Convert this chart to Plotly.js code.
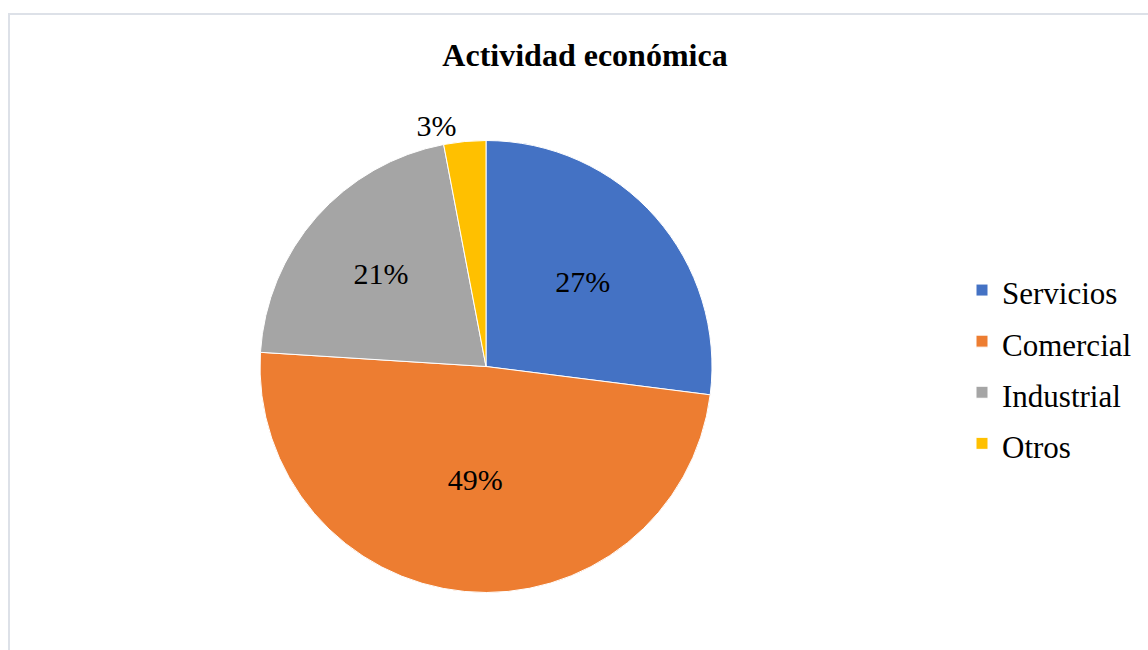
<!DOCTYPE html>
<html>
<head>
<meta charset="utf-8">
<script src="https://cdn.plot.ly/plotly-3.0.1.min.js"></script>
<style>
html,body{margin:0;padding:0;background:#fff;}
#chart{width:1148px;height:650px;}
</style>
</head>
<body>
<div id="chart"></div>
<script>
const categories = ["Servicios", "Comercial", "Industrial", "Otros"];
const values = [27, 49, 21, 3];
const colors = ["#4472C4", "#ED7D31", "#A5A5A5", "#FFC000"];
const chartTitle = "Actividad económica";

const W = 1148, H = 650;
const serif = "Liberation Serif";

// legend row spacing comes from the legend font size; the visible label uses 31px
const legendLabels = categories.map(c => '<span style="font-size:31px">' + c + '</span>');

const trace = {
  type: "pie",
  labels: legendLabels,
  values: values,
  sort: false,
  direction: "clockwise",
  rotation: 0,
  marker: {colors: colors, line: {color: "#ffffff", width: 1}},
  textinfo: "percent",
  texttemplate: "%{percent:.0%}",
  textposition: ["inside", "inside", "inside", "outside"],
  insidetextorientation: "horizontal",
  textfont: {family: serif, size: 30, color: "#000000"},
  outsidetextfont: {family: serif, size: 30, color: "#000000"},
  insidetextfont: {family: serif, size: 30, color: "#000000"},
  hoverinfo: "label+percent",
  domain: {x: [260 / W, 712 / W], y: [57 / H, 510 / H]}
};

const layout = {
  width: W, height: H,
  margin: {l: 0, r: 0, t: 0, b: 0},
  paper_bgcolor: "#ffffff",
  font: {family: serif, size: 30, color: "#000000"},
  title: {
    text: "<b>" + chartTitle + "</b>",
    font: {family: serif, size: 32, color: "#000000"},
    x: 585 / W, xanchor: "center",
    y: 1 - 55 / H, yanchor: "middle"
  },
  showlegend: true,
  legend: {
    x: 962 / W, xanchor: "left",
    y: 1 - 367 / H, yanchor: "middle",
    font: {family: serif, size: 37, color: "#000000"},
    bgcolor: "rgba(0,0,0,0)",
    itemclick: false
  },
  shapes: [{
    type: "rect", xref: "paper", yref: "paper",
    x0: 9 / W, x1: 1.02, y0: -0.05, y1: 1 - 14 / H,
    line: {color: "#DDE1E8", width: 2}, fillcolor: "rgba(0,0,0,0)", layer: "below"
  }]
};

Plotly.newPlot("chart", [trace], layout, {displayModeBar: false, staticPlot: true});
</script>
</body>
</html>
